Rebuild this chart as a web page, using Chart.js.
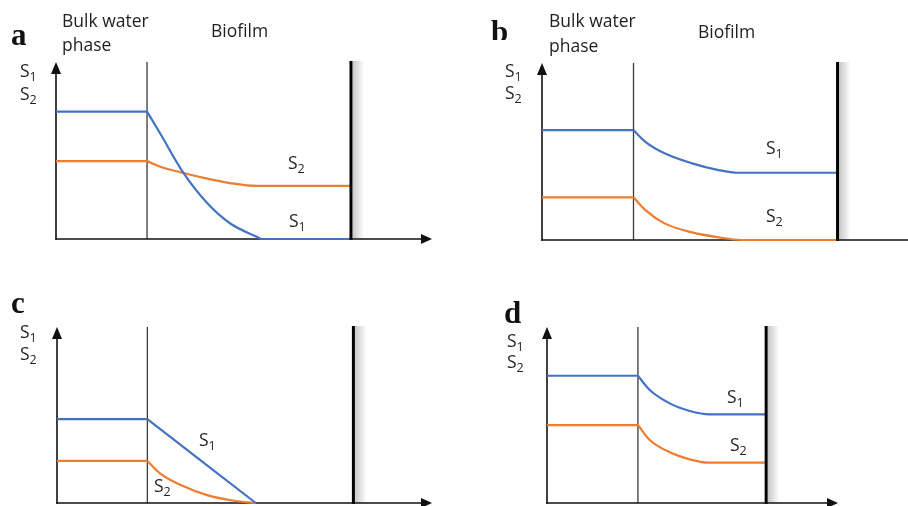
<!DOCTYPE html>
<html>
<head>
<meta charset="utf-8">
<script src="https://cdn.jsdelivr.net/npm/chart.js@4.4.1/dist/chart.umd.min.js"></script>
<style>
html,body{margin:0;padding:0;background:#fff;}
body{width:908px;height:506px;position:relative;overflow:hidden;font-family:"Open Sans",sans-serif;}
.panel{position:absolute;width:454px;height:253px;}
.panel canvas{position:absolute;left:0;top:0;}
.t{position:absolute;font-size:17.5px;line-height:17px;color:#1f1f1f;white-space:nowrap;}
.t sub{font-size:12.5px;vertical-align:-4px;line-height:0;}
.L{position:absolute;font-family:"Liberation Serif",serif;font-weight:bold;font-size:31px;line-height:31px;color:#111;}
.clip{position:absolute;overflow:hidden;}
</style>
</head>
<body>
<div class="panel" style="left:0;top:0"><canvas id="ca" width="454" height="253"></canvas></div>
<div class="panel" style="left:454px;top:0"><canvas id="cb" width="454" height="253"></canvas></div>
<div class="panel" style="left:0;top:253px"><canvas id="cc" width="454" height="253"></canvas></div>
<div class="panel" style="left:454px;top:253px"><canvas id="cd" width="454" height="253"></canvas></div>

<!-- panel a text -->
<div class="L" style="left:11px;top:19px">a</div>
<div class="t" style="left:62px;top:12px">Bulk water</div>
<div class="t" style="left:62px;top:36px">phase</div>
<div class="t" style="left:211px;top:22px">Biofilm</div>
<div class="t" style="left:20px;top:62px">S<sub>1</sub></div>
<div class="t" style="left:20px;top:85px">S<sub>2</sub></div>
<div class="t" style="left:288px;top:154px">S<sub>2</sub></div>
<div class="t" style="left:289px;top:212px">S<sub>1</sub></div>

<!-- panel b text -->
<div class="clip" style="left:488px;top:0;width:24px;height:40px"><div class="L" style="left:3px;top:16px">b</div></div>
<div class="t" style="left:549px;top:12px">Bulk water</div>
<div class="t" style="left:549px;top:37px">phase</div>
<div class="t" style="left:698px;top:23px">Biofilm</div>
<div class="t" style="left:505px;top:62px">S<sub>1</sub></div>
<div class="t" style="left:505px;top:84px">S<sub>2</sub></div>
<div class="t" style="left:766px;top:139px">S<sub>1</sub></div>
<div class="t" style="left:766px;top:207px">S<sub>2</sub></div>

<!-- panel c text -->
<div class="L" style="left:11px;top:287px">c</div>
<div class="t" style="left:20px;top:323px">S<sub>1</sub></div>
<div class="t" style="left:20px;top:345px">S<sub>2</sub></div>
<div class="t" style="left:199px;top:431px">S<sub>1</sub></div>
<div class="t" style="left:154px;top:477px">S<sub>2</sub></div>

<!-- panel d text -->
<div class="L" style="left:504px;top:297px">d</div>
<div class="t" style="left:507px;top:332px">S<sub>1</sub></div>
<div class="t" style="left:507px;top:353px">S<sub>2</sub></div>
<div class="t" style="left:727px;top:388px">S<sub>1</sub></div>
<div class="t" style="left:730px;top:436px">S<sub>2</sub></div>

<script>
// ---- Data (depth: 0 = y-axis, 10 = bulk/biofilm interface; concentration 0..10) ----
const interfaceDepth = 10;
const wallDepth = [32.4, 32.3, 32.8, 24.1];      // substratum position, panels a-d
const axisEnd   = [41.3, 40.0, 41.5, 32.0];      // length of depth axis, panels a-d

// panel a
const aS1Depth = [0, 10, 11.4, 14, 16.6, 19.1, 22, 22.6, 32.4];
const aS1Conc  = [7.2, 7.2, 6.0, 3.73, 2.03, 0.89, 0.14, 0, 0];
const aS2Depth = [0, 10, 11.4, 14, 16.6, 19.1, 22.1, 32.4];
const aS2Conc  = [4.4, 4.4, 4.1, 3.73, 3.41, 3.16, 3.0, 3.0];
// panel b
const bS1Depth = [0, 10, 11.3, 13.4, 16.4, 19.3, 21.4, 32.3];
const bS1Conc  = [6.21, 6.21, 5.55, 4.9, 4.33, 3.95, 3.8, 3.8];
const bS2Depth = [0, 10, 11.3, 13.4, 16.4, 19.3, 21.8, 32.3];
const bS2Conc  = [2.41, 2.41, 1.69, 0.94, 0.43, 0.15, 0, 0];
// panel c
const cS1Depth = [0, 10, 22];
const cS1Conc  = [4.77, 4.77, 0];
const cS2Depth = [0, 10, 11.4, 13.7, 16.6, 19.6, 22];
const cS2Conc  = [2.39, 2.39, 1.69, 1.02, 0.45, 0.13, 0];
// panel d
const dS1Depth = [0, 10, 11.3, 13.5, 15.7, 17.9, 24.1];
const dS1Conc  = [7.23, 7.23, 6.42, 5.66, 5.23, 5.04, 5.04];
const dS2Depth = [0, 10, 11.3, 13.5, 15.7, 17.7, 24.1];
const dS2Conc  = [4.43, 4.43, 3.58, 2.88, 2.48, 2.29, 2.29];

const S1_COLOR = '#4472C4';
const S2_COLOR = '#ED7D31';

function pts(xs, ys){ return xs.map((x,i)=>({x:x, y:ys[i]})); }

// a series = flat bulk part (straight) + biofilm part (smooth monotone curve)
function seriesDatasets(xs, ys, color){
  const all = pts(xs, ys);
  return [
    {data: all.slice(0,2), borderColor: color, borderWidth: 2.2, tension: 0, pointRadius: 0, showLine: true, clip: false},
    {data: all.slice(1), borderColor: color, borderWidth: 2.2, cubicInterpolationMode: 'monotone', pointRadius: 0, showLine: true, clip: false}
  ];
}

const framePlugin = {
  id: 'frame',
  beforeDatasetsDraw(chart, args, o){
    const {ctx, scales:{x, y}} = chart;
    const x0 = x.getPixelForValue(0), y0 = y.getPixelForValue(0);
    const yTop = y.getPixelForValue(y.max), xEnd = x.getPixelForValue(x.max);
    const xi = x.getPixelForValue(o.interfaceAt);
    const xw = x.getPixelForValue(o.wallAt);
    ctx.save();
    // wall shadow
    const g = ctx.createLinearGradient(xw + 1.5, 0, xw + 13, 0);
    g.addColorStop(0, 'rgba(0,0,0,0.22)');
    g.addColorStop(1, 'rgba(0,0,0,0)');
    ctx.fillStyle = g;
    ctx.fillRect(xw + 1.5, yTop - 1, 11.5, y0 - yTop + 1);
    // interface line
    ctx.strokeStyle = '#3a3a3a';
    ctx.lineWidth = 1.3;
    ctx.beginPath(); ctx.moveTo(xi, yTop); ctx.lineTo(xi, y0); ctx.stroke();
    // axes
    ctx.strokeStyle = '#111'; ctx.fillStyle = '#111';
    ctx.lineWidth = 1.6;
    ctx.beginPath(); ctx.moveTo(x0, y0 + 0.8); ctx.lineTo(x0, yTop + 8); ctx.stroke();
    ctx.beginPath(); ctx.moveTo(x0 - 0.8, y0); ctx.lineTo(o.arrowX ? xEnd - 8 : xEnd, y0); ctx.stroke();
    // y arrow
    ctx.beginPath(); ctx.moveTo(x0, yTop); ctx.lineTo(x0 - 5, yTop + 12); ctx.lineTo(x0 + 5, yTop + 12); ctx.closePath(); ctx.fill();
    if (o.arrowX){
      ctx.beginPath(); ctx.moveTo(xEnd, y0); ctx.lineTo(xEnd - 11, y0 - 5); ctx.lineTo(xEnd - 11, y0 + 5); ctx.closePath(); ctx.fill();
    }
    ctx.restore();
  },
  afterDatasetsDraw(chart, args, o){
    const {ctx, scales:{x, y}} = chart;
    const y0 = y.getPixelForValue(0), yTop = y.getPixelForValue(y.max);
    const xw = x.getPixelForValue(o.wallAt);
    ctx.save();
    ctx.strokeStyle = '#000';
    ctx.lineWidth = 3;
    ctx.beginPath(); ctx.moveTo(xw, yTop - 1); ctx.lineTo(xw, y0 + 0.8); ctx.stroke();
    ctx.restore();
  }
};

function makePanel(id, idx, s1x, s1y, s2x, s2y, padding, arrowX){
  new Chart(document.getElementById(id), {
    type: 'scatter',
    data: { datasets: [...seriesDatasets(s1x, s1y, S1_COLOR), ...seriesDatasets(s2x, s2y, S2_COLOR)] },
    options: {
      responsive: false,
      animation: false,
      events: [],
      layout: { padding: padding },
      scales: {
        x: { type: 'linear', min: 0, max: axisEnd[idx], display: false },
        y: { type: 'linear', min: 0, max: 10, display: false }
      },
      plugins: {
        legend: { display: false },
        tooltip: { enabled: false },
        frame: { interfaceAt: interfaceDepth, wallAt: wallDepth[idx], arrowX: arrowX }
      }
    },
    plugins: [framePlugin]
  });
}

makePanel('ca', 0, aS1Depth, aS1Conc, aS2Depth, aS2Conc, {left:56, right:22, top:62, bottom:14}, true);
makePanel('cb', 1, bS1Depth, bS1Conc, bS2Depth, bS2Conc, {left:88, right:0, top:63, bottom:13}, false);
makePanel('cc', 2, cS1Depth, cS1Conc, cS2Depth, cS2Conc, {left:57, right:22, top:74, bottom:3}, true);
makePanel('cd', 3, dS1Depth, dS1Conc, dS2Depth, dS2Conc, {left:93, right:70, top:74, bottom:3}, true);
</script>
</body>
</html>
